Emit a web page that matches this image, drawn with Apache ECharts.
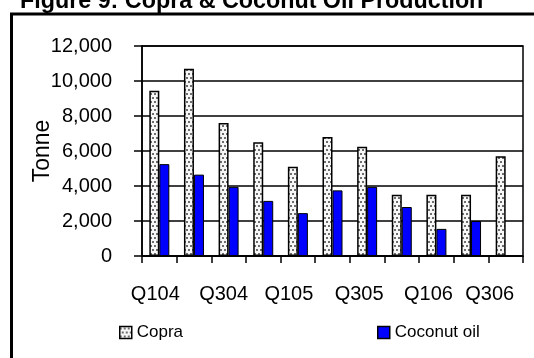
<!DOCTYPE html>
<html>
<head>
<meta charset="utf-8">
<script src="https://cdn.jsdelivr.net/npm/echarts@6/dist/echarts.min.js"></script>
<style>
  html, body { margin: 0; padding: 0; background: #fff; }
  #chart { width: 534px; height: 358px; }
</style>
</head>
<body>
<div id="chart"></div>
<script>
// Quarterly production, tonnes
const quarters = ['Q104', 'Q204', 'Q304', 'Q404', 'Q105', 'Q205', 'Q305', 'Q405', 'Q106', 'Q206', 'Q306'];
const copra = [9450, 10700, 7600, 6500, 5100, 6800, 6250, 3500, 3500, 3500, 5700];
const coconutOil = [5250, 4650, 3950, 3150, 2450, 3750, 3950, 2800, 1550, 2000, null];
const yTicks = [0, 2000, 4000, 6000, 8000, 10000, 12000];

const FONT = '"Liberation Sans", Arial, sans-serif';

// Dotted fill for the copra bars
function dotPattern() {
  const c = document.createElement('canvas');
  c.width = 4; c.height = 8;
  const g = c.getContext('2d');
  g.fillStyle = '#f7f7f7';
  g.fillRect(0, 0, 4, 8);
  g.fillStyle = '#6e6e6e';
  g.fillRect(0, 1, 2, 2);
  g.fillRect(2, 5, 2, 2);
  return c;
}

// Every other quarter is labelled; each label is nudged left a little
const labelNudge = [8, 10, 18, 16, 16, 32];
const rich = {};
labelNudge.forEach((p, i) => {
  rich['q' + i] = { fontFamily: FONT, fontSize: 20, color: '#000', padding: [0, p, 0, 0] };
});

const chart = echarts.init(document.getElementById('chart'), null, { renderer: 'canvas' });

chart.setOption({
  animation: false,
  backgroundColor: '#fff',
  graphic: [
    {
      type: 'text', left: 20, top: -10, silent: true,
      style: { text: 'Figure 9: Copra & Coconut Oil Production', font: 'bold 23.3px "Liberation Sans", Arial, sans-serif', fill: '#000' }
    },
    {
      type: 'rect', silent: true, z: -1,
      shape: { x: 11.5, y: 14, width: 600, height: 400 },
      style: { fill: 'none', stroke: '#000', lineWidth: 3 }
    }
  ],
  grid: {
    left: 142, top: 46, width: 381, height: 210,
    show: true, backgroundColor: '#fff', borderColor: '#000', borderWidth: 1.5
  },
  legend: [
    {
      data: ['Copra'], left: 114, top: 319, itemWidth: 12, itemHeight: 12, itemGap: 4,
      icon: 'rect', textStyle: { fontFamily: FONT, fontSize: 17, color: '#000' },
      itemStyle: { borderColor: '#000', borderWidth: 1.5 }
    },
    {
      data: ['Coconut oil'], left: 372, top: 319, itemWidth: 12, itemHeight: 12, itemGap: 5,
      icon: 'rect', textStyle: { fontFamily: FONT, fontSize: 17, color: '#000' },
      itemStyle: { borderColor: '#000', borderWidth: 1.5 }
    }
  ],
  xAxis: {
    type: 'category',
    data: quarters,
    boundaryGap: true,
    axisLine: { lineStyle: { color: '#000', width: 1.5 } },
    axisTick: { show: true, interval: 0, length: 7, lineStyle: { color: '#000', width: 1.5 } },
    axisLabel: {
      interval: 1, margin: 28, fontFamily: FONT, fontSize: 20, color: '#000',
      formatter: (v, i) => '{q' + (i / 2) + '|' + v + '}',
      rich: rich
    },
    splitLine: { show: false }
  },
  yAxis: {
    type: 'value',
    min: yTicks[0], max: yTicks[yTicks.length - 1], interval: 2000,
    name: 'Tonne', nameLocation: 'middle', nameGap: 88, nameMoveOverlap: false,
    nameTextStyle: { fontFamily: FONT, fontSize: 23, color: '#000' },
    axisLine: { show: true, lineStyle: { color: '#000', width: 1.5 } },
    axisTick: { show: true, length: 8, lineStyle: { color: '#000', width: 1.5 } },
    axisLabel: {
      margin: 30, fontFamily: FONT, fontSize: 20, color: '#000',
      formatter: v => v.toLocaleString('en-US')
    },
    splitLine: { show: true, lineStyle: { color: '#000', width: 1.5 } }
  },
  series: [
    {
      name: 'Copra', type: 'bar', data: copra, barWidth: 10, barGap: '0%',
      itemStyle: { color: { image: dotPattern(), repeat: 'repeat' }, borderColor: '#000', borderWidth: 1.5 }
    },
    {
      name: 'Coconut oil', type: 'bar', data: coconutOil, barWidth: 10,
      itemStyle: { color: '#0000ff', borderColor: '#000', borderWidth: 1 }
    }
  ]
});
</script>
</body>
</html>
